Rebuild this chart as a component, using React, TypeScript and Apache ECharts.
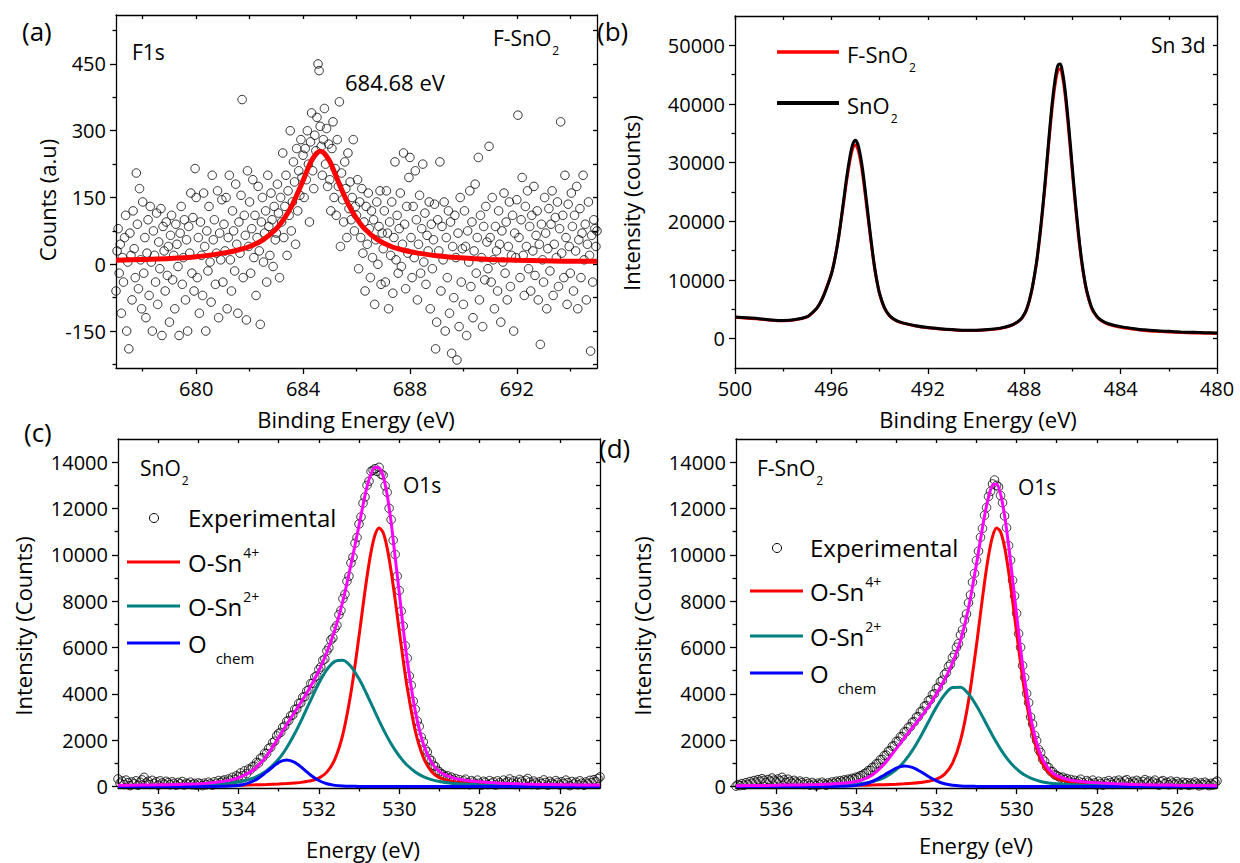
import React, { useEffect, useRef } from 'react';
import * as echarts from 'echarts';

const FONT = "'Open Sans', 'Noto Sans', sans-serif";

// ---------- Panel (a): F1s ----------
const F1S_START = 677;
const F1S_STEP = 0.04;
const F1S_COUNTS = [
  -60, 30, 80, -20, 45, -110, 15, -40, 60, 110, -150, 5, -190, 70, 20, -80, 120, 35, -30, 205, 90, -55, 170, 10, -100,
  140, -20, 60, -120, 25, 100, -70, 130, 5, -150, 75, 20, -40, 115, -90, 50, -10, 125, -160, 85, 30, -60, 95, -25, 40,
  -130, 65, 110, -35, 20, -100, 90, 45, -5, -160, 70, 130, -45, 15, 100, -80, 55, -150, 85, 25, 160, -20, 105, -60, 215,
  150, -30, 60, -110, 95, 20, -70, 160, 40, -150, 75, -15, 130, 5, -85, 200, 55, 100, -45, 25, 165, -120, 70, 10, 145,
  -40, 90, 30, 150, -100, 60, 200, 10, -60, 120, 75, -15, 180, 45, -110, 95, 25, 155, 370, -30, 110, 65, -125, 210, 40,
  140, -20, 80, 190, 15, 110, -70, 60, 175, 30, -135, 95, 150, 5, 70, 120, -40, 200, 85, 20, 160, 100, -5, 130, 55,
  70, 180, 115, -30, 150, 95, 250, 60, 130, 200, 20, 165, 110, 300, 75, 140, 230, 185, 45, 260, 120, 210, 155, 280, 195,
  245, 150, 260, 190, 300, 225, 95, 275, 340, 210, 170, 290, 255, 330, 450, 435, 310, 265, 200, 280, 350, 225, 305, 175, 270,
  190, 120, 260, 320, 150, 215, 110, 280, 175, 365, 40, 205, 145, 95, 230, 170, 60, 250, 125, 185, 100, 150, 280, 75, 130,
  110, 190, -10, 140, 60, 170, 25, 95, -60, 130, 45, 160, 80, -30, 120, 15, 100, -90, 55, 140, 0, 85, 165, -45, 70,
  35, 120, -40, 165, 70, -100, 95, 20, 140, -65, 60, 230, 10, 110, -20, 80, 160, -5, 45, 250, 90, -55, 130, 25, 195,
  240, 60, -30, 130, 15, 210, 100, -80, 45, 155, -20, 80, 225, 5, 115, -45, 65, 30, 140, -100, 90, -10, 55, 135, -190,
  -130, 100, 30, 230, -60, 85, 10, 140, -150, 60, -30, 120, -110, 95, -200, 40, -75, 110, 15, -215, 70, -140, 150, -40, 35,
  -90, 120, 40, -160, 75, 5, 165, -50, 95, -120, 30, 180, -20, 60, 240, -80, 110, 15, -140, 85, -35, 130, 50, -10, 265,
  60, -40, 150, 10, -100, 85, 30, -60, 120, 45, -130, 75, 5, 160, -20, 95, -80, 40, 140, -50, 20, 110, -150, 70, 15,
  145, 335, 60, -30, 100, 195, 20, -70, 130, 40, 165, -10, 85, -60, 110, 30, 175, -25, 65, 120, -80, 45, -180, 90, 10,
  -40, 150, 70, -100, 35, 125, -15, 90, 165, -70, 45, 105, 15, 140, -50, 80, 320, 25, 110, -30, 200, 60, -90, 135, 40,
  -20, 160, 85, -60, 110, 30, 175, -100, 55, 125, -30, 70, 200, 10, 90, -80, 45, 140, 20, -195, 65, -40, 100, 80, 40,
  75,
];
const F1S_FIT_E = [677, 678, 679, 680, 681, 681.5, 682, 682.5, 683, 683.3, 683.6, 683.9, 684.1, 684.3, 684.5, 684.65, 684.8, 685.0, 685.2, 685.4, 685.7, 686.0, 686.3, 686.8, 687.3, 687.8, 688.3, 689, 690, 691, 692, 693, 694, 695];
const F1S_FIT = [9, 11, 13, 17, 25, 31, 40, 55, 80, 103, 134, 174, 203, 231, 249, 254, 249, 231, 203, 174, 134, 103, 80, 55, 40, 31, 25, 19, 14, 11, 9, 8, 7, 7];

// ---------- Panel (b): Sn 3d ----------
const SN_E = [500, 499.5, 499, 498.5, 498, 497.5, 497, 496.8, 496.6, 496.4, 496.2, 496.0, 495.9, 495.8, 495.7, 495.6, 495.5, 495.4, 495.3, 495.2, 495.1, 495.0, 494.9, 494.8, 494.7, 494.6, 494.5, 494.4, 494.3, 494.2, 494.1, 494.0, 493.8, 493.6, 493.4, 493.2, 493.0, 492.5, 492, 491.5, 491, 490.5, 490, 489.5, 489, 488.6, 488.3, 488.1, 487.9, 487.7, 487.5, 487.4, 487.3, 487.2, 487.1, 487.0, 486.9, 486.8, 486.7, 486.6, 486.5, 486.4, 486.3, 486.2, 486.1, 486.0, 485.9, 485.8, 485.7, 485.6, 485.5, 485.4, 485.2, 485.0, 484.8, 484.5, 484, 483.5, 483, 482.5, 482, 481.5, 481, 480.5, 480];
const SN_PURE = [3700, 3550, 3400, 3200, 3100, 3250, 3750, 4400, 5200, 6600, 8600, 11000, 12700, 14800, 17300, 20200, 23300, 26500, 29300, 31700, 33300, 33800, 33100, 31300, 28700, 25400, 21900, 18400, 15000, 12000, 9600, 7700, 5300, 4000, 3300, 2900, 2650, 2200, 1900, 1700, 1550, 1450, 1450, 1550, 1800, 2200, 2800, 3500, 5000, 8000, 12700, 15900, 19600, 23700, 28200, 33000, 37600, 41600, 44700, 46600, 46800, 45200, 42300, 38300, 33800, 29000, 24400, 20100, 16200, 12900, 10200, 8100, 5300, 3900, 3150, 2550, 2050, 1750, 1500, 1350, 1250, 1150, 1080, 1020, 980];
const SN_F = [3650, 3500, 3350, 3150, 3050, 3200, 3700, 4350, 5200, 6650, 8700, 11100, 12800, 14900, 17300, 20100, 23000, 26000, 28700, 31000, 32600, 33000, 32300, 30500, 27900, 24700, 21300, 17900, 14700, 11800, 9500, 7600, 5200, 3950, 3250, 2850, 2600, 2150, 1850, 1650, 1500, 1400, 1400, 1500, 1750, 2150, 2750, 3450, 4950, 7950, 12600, 15700, 19300, 23300, 27700, 32400, 36900, 40800, 43800, 45700, 46000, 44400, 41500, 37500, 33000, 28300, 23800, 19600, 15800, 12600, 10000, 7900, 5150, 3800, 3050, 2450, 1950, 1650, 1400, 1250, 1150, 1050, 980, 930, 880];

// ---------- Panels (c), (d): O1s ----------
const EXP_START = 537;
const EXP_STEP = 0.05;
const C_EXP = [
  330, 150, 240, 90, 280, 170, 40, 200, 120, 250, 60, 190, 290, 400, 160, 230, 90, 270, 140, 210,
  60, 250, 160, 100, 230, 170, 80, 210, 140, 60, 180, 120, 220, 70, 150, 100, 190, 80, 140, 60,
  160, 120, 40, 150, 80, 190, 120, 60, 210, 140, 260, 170, 240, 290, 200, 330, 270, 400, 310, 470,
  420, 590, 470, 680, 560, 760, 730, 870, 880, 1040, 1020, 1230, 1250, 1440, 1430, 1650, 1690, 1900, 1960, 2190,
  2300, 2340, 2560, 2610, 2820, 2850, 3060, 3090, 3330, 3350, 3590, 3610, 3860, 3880, 4130, 4170, 4450, 4460, 4730, 4780,
  5050, 5160, 5450, 5510, 5860, 5990, 6330, 6420, 6830, 6960, 7420, 7600, 8110, 8300, 8860, 9080, 9650, 9900, 10500, 10750,
  11330, 11640, 12230, 12500, 13000, 13180, 13600, 13650, 13720, 13600, 13780, 13480, 13440, 12980, 12700, 12010, 11520, 10630, 10020, 9080,
  8460, 7570, 6930, 6080, 5540, 4780, 4370, 3690, 3340, 2830, 2600, 2130, 1930, 1600, 1500, 1200, 1120, 920, 870, 700,
  640, 560, 510, 430, 470, 360, 410, 280, 350, 190, 300, 120, 250, 320, 170, 80, 260, 200, 110, 280,
  150, 60, 230, 180, 90, 260, 140, 200, 70, 250, 170, 100, 280, 160, 220, 330, 150, 250, 90, 190,
  310, 230, 120, 270, 350, 200, 90, 240, 160, 70, 210, 130, 290, 180, 60, 230, 150, 100, 260, 180,
  70, 210, 130, 280, 170, 40, 220, 110, 190, 80, 250, 150, 60, 200, 120, 270, 170, 300, 210, 350,
  420,
];
const D_EXP = [
  20, 90, 40, 130, 60, 170, 100, 220, 150, 260, 190, 300, 230, 340, 270, 180, 310, 240, 370, 280,
  200, 330, 250, 400, 290, 180, 320, 230, 150, 270, 200, 120, 240, 170, 90, 210, 140, 60, 180, 110,
  40, 150, 90, 190, 120, 60, 160, 100, 200, 140, 230, 170, 260, 200, 290, 240, 320, 280, 360, 330,
  410, 400, 470, 480, 560, 590, 690, 700, 830, 840, 980, 1000, 1160, 1170, 1340, 1360, 1530, 1550, 1740, 1760,
  1950, 1960, 2150, 2160, 2360, 2370, 2560, 2580, 2780, 2800, 3000, 3020, 3230, 3260, 3470, 3500, 3710, 3750, 3970, 4010,
  4240, 4290, 4530, 4590, 4840, 4920, 5180, 5280, 5570, 5690, 6010, 6170, 6540, 6760, 7180, 7450, 7930, 8270, 8820, 9200,
  9760, 10160, 10760, 11140, 11710, 12040, 12520, 12740, 13060, 13230, 13000, 12930, 12560, 12250, 11680, 11170, 10400, 9770, 8900, 8230,
  7480, 6600, 6010, 5220, 4710, 4020, 3620, 3000, 2700, 2210, 1980, 1600, 1470, 1180, 1090, 860, 830, 660, 640, 510,
  480, 430, 370, 410, 300, 350, 240, 310, 180, 270, 140, 230, 320, 170, 90, 260, 200, 120, 280, 160,
  70, 230, 140, 60, 210, 130, 260, 170, 90, 240, 150, 280, 190, 110, 250, 300, 180, 100, 230, 150,
  270, 190, 80, 220, 300, 160, 240, 110, 200, 280, 140, 60, 210, 260, 130, 190, 80, 240, 160, 100,
  220, 140, 60, 190, 110, 170, 50, 150, 90, 200, 120, 30, 160, 80, 190, 110, 40, 140, 70, 180,
  240,
];
const FIT_E = [537, 536.5, 536, 535.5, 535, 534.6, 534.2, 533.9, 533.6, 533.3, 533.0, 532.8, 532.6, 532.4, 532.2, 532.0, 531.8, 531.6, 531.4, 531.2, 531.0, 530.9, 530.8, 530.7, 530.6, 530.5, 530.4, 530.3, 530.2, 530.1, 530.0, 529.9, 529.8, 529.6, 529.4, 529.2, 529.0, 528.7, 528.4, 528, 527.5, 527, 526.5, 526, 525.5, 525];
const C_SN4 = [18, 21, 25, 30, 36, 44, 53, 63, 75, 91, 113, 132, 157, 194, 252, 368, 626, 1183, 2266, 4056, 6485, 7806, 9065, 10130, 10868, 11160, 10964, 10309, 9297, 8067, 6750, 5457, 4276, 2412, 1266, 664, 385, 224, 160, 115, 81, 60, 46, 37, 30, 25];
const C_SN2 = [35, 42, 51, 64, 82, 106, 155, 232, 387, 682, 1192, 1680, 2289, 2992, 3742, 4460, 5049, 5406, 5455, 5185, 4655, 4324, 3964, 3592, 3215, 2846, 2491, 2158, 1851, 1574, 1326, 1109, 922, 632, 432, 301, 218, 148, 112, 84, 65, 52, 43, 35, 30, 26];
const C_CHEM = [2, 2, 3, 4, 7, 10, 25, 81, 263, 635, 1045, 1153, 1045, 784, 493, 263, 122, 53, 25, 14, 10, 9, 8, 7, 7, 6, 6, 5, 5, 5, 4, 4, 4, 3, 3, 3, 3, 2, 2, 2, 2, 2, 2, 1, 1, 1];
const C_ENV = [60, 65, 75, 95, 118, 175, 280, 450, 760, 1330, 2120, 2680, 3220, 3760, 4340, 5000, 5800, 6770, 8020, 9580, 11270, 12150, 12950, 13500, 13780, 13750, 13400, 12600, 11400, 9900, 8400, 6850, 5450, 3270, 1850, 1060, 650, 400, 285, 205, 150, 118, 95, 82, 72, 65];
const D_SN4 = [16, 19, 23, 27, 34, 40, 50, 58, 70, 85, 105, 123, 146, 179, 228, 320, 530, 1005, 1979, 3682, 6113, 7477, 8807, 9961, 10788, 11155, 10994, 10339, 9297, 8020, 6655, 5324, 4116, 2258, 1151, 598, 350, 209, 151, 108, 76, 56, 43, 34, 28, 23];
const D_SN2 = [23, 27, 33, 42, 54, 68, 94, 132, 214, 389, 731, 1088, 1564, 2145, 2791, 3430, 3960, 4273, 4291, 4003, 3489, 3181, 2857, 2529, 2208, 1902, 1617, 1360, 1130, 931, 761, 618, 501, 330, 222, 158, 119, 87, 68, 54, 42, 34, 28, 23, 19, 16];
const D_CHEM = [1, 2, 2, 3, 5, 9, 23, 74, 221, 501, 803, 894, 830, 653, 437, 251, 126, 58, 27, 14, 10, 9, 8, 7, 7, 6, 6, 5, 5, 5, 4, 4, 4, 3, 3, 3, 3, 2, 2, 2, 2, 2, 2, 2, 1, 1];
const D_ENV = [40, 48, 58, 72, 93, 117, 167, 264, 505, 975, 1639, 2105, 2540, 2977, 3456, 4001, 4616, 5336, 6297, 7699, 9612, 10667, 11672, 12497, 13003, 13063, 12617, 11704, 10432, 8956, 7420, 5946, 4621, 2591, 1376, 759, 472, 298, 221, 164, 120, 92, 73, 59, 48, 40];

// ---------- Tick labels ----------
const A_X_MAJOR = [680, 684, 688, 692];
const A_X_MINOR = [678, 682, 686, 690, 694];
const A_Y_MAJOR = [-150, 0, 150, 300, 450];
const A_Y_MINOR = [-225, -75, 75, 225, 375, 525];
const B_X_MAJOR = [480, 484, 488, 492, 496, 500];
const B_X_MINOR = [482, 486, 490, 494, 498];
const B_Y_MAJOR = [0, 10000, 20000, 30000, 40000, 50000];
const B_Y_MINOR = [5000, 15000, 25000, 35000, 45000];
const O_X_MAJOR = [526, 528, 530, 532, 534, 536];
const O_X_MINOR = [527, 529, 531, 533, 535];
const O_Y_MAJOR = [0, 2000, 4000, 6000, 8000, 10000, 12000, 14000];
const O_Y_MINOR = [1000, 3000, 5000, 7000, 9000, 11000, 13000];

const zip = (xs: number[], ys: number[]) => xs.map((x, i) => [x, ys[i]]);
const gridPts = (start: number, step: number, sign: number, ys: number[]) =>
  ys.map((y, i) => [Math.round((start + sign * i * step) * 100) / 100, y]);

function axisSet(gi: number, xs: any, ys: any) {
  const ln = { color: '#000', width: 1.3 };
  const fmt = (v: number) => String(v);
  const lab = { color: '#000', fontSize: 20, fontFamily: FONT, formatter: fmt };
  const xBase = { gridIndex: gi, type: 'value', min: xs.min, max: xs.max, inverse: !!xs.inverse, splitLine: { show: false } };
  const yBase = { gridIndex: gi, type: 'value', min: ys.min, max: ys.max, splitLine: { show: false } };
  const xAxis = [
    { ...xBase, position: 'bottom', axisLine: { show: true, onZero: false, lineStyle: ln },
      axisTick: { show: true, inside: false, length: 6, lineStyle: ln, customValues: xs.major },
      axisLabel: { show: true, customValues: xs.major, margin: 10, ...lab } },
    { ...xBase, position: 'bottom', axisLine: { show: false, onZero: false },
      axisTick: { show: true, inside: false, length: 3.5, lineStyle: ln, customValues: xs.minor },
      axisLabel: { show: false } },
    { ...xBase, position: 'top', axisLine: { show: true, onZero: false, lineStyle: ln },
      axisTick: { show: true, inside: true, length: 4, lineStyle: ln, customValues: [...xs.major, ...xs.minor] },
      axisLabel: { show: false } },
  ];
  const yAxis = [
    { ...yBase, position: 'left', axisLine: { show: true, onZero: false, lineStyle: ln },
      axisTick: { show: true, inside: false, length: 6, lineStyle: ln, customValues: ys.major },
      axisLabel: { show: true, customValues: ys.major, margin: 10, ...lab } },
    { ...yBase, position: 'left', axisLine: { show: false, onZero: false },
      axisTick: { show: true, inside: false, length: 3.5, lineStyle: ln, customValues: ys.minor },
      axisLabel: { show: false } },
    { ...yBase, position: 'right', axisLine: { show: true, onZero: false, lineStyle: ln },
      axisTick: { show: true, inside: true, length: 4, lineStyle: ln, customValues: [...ys.major, ...ys.minor] },
      axisLabel: { show: false } },
  ];
  return { xAxis, yAxis };
}

const txt = (x: number, y: number, text: string, size: number) => ({
  type: 'text', x, y, silent: true,
  style: { text, fill: '#000', fontSize: size, fontFamily: FONT, align: 'left', verticalAlign: 'middle', textAlign: 'left', textVerticalAlign: 'middle' },
});
const rich = (x: number, y: number, text: string, size: number) => ({
  type: 'text', x, y, silent: true,
  style: {
    text, fill: '#000', fontSize: size, fontFamily: FONT, align: 'left', verticalAlign: 'middle',
    rich: {
      m: { fontSize: size, fontFamily: FONT, fill: '#000' },
      sub: { fontSize: 12, fontFamily: FONT, fill: '#000', padding: [size + 4, 0, 0, 1] },
      sup: { fontSize: 14, fontFamily: FONT, fill: '#000', padding: [0, 0, 20, 1] },
      chem: { fontSize: 15, fontFamily: FONT, fill: '#000', padding: [30, 0, 0, 9] },
    },
  },
});
const vtxt = (x: number, y: number, text: string, size: number) => ({
  type: 'text', x, y, rotation: Math.PI / 2, silent: true,
  style: { text, fill: '#000', fontSize: size, fontFamily: FONT, align: 'center', verticalAlign: 'middle', textAlign: 'center', textVerticalAlign: 'middle' },
});
const ctxt = (x: number, y: number, text: string, size: number) => ({
  type: 'text', x, y, silent: true,
  style: { text, fill: '#000', fontSize: size, fontFamily: FONT, align: 'center', verticalAlign: 'middle', textAlign: 'center', textVerticalAlign: 'middle' },
});
const seg = (x1: number, x2: number, y: number, color: string, w = 3) => ({
  type: 'line', silent: true, shape: { x1, y1: y, x2, y2: y }, style: { stroke: color, lineWidth: w },
});
const ring = (cx: number, cy: number) => ({
  type: 'circle', silent: true, shape: { cx, cy, r: 4.5 }, style: { fill: 'none', stroke: '#000', lineWidth: 1 },
});

const RED = '#ff0000';
const TEAL = '#008080';
const BLUE = '#0000ff';
const MAGENTA = '#ff00ff';

export default function App() {
  const ref = useRef<HTMLDivElement>(null);
  useEffect(() => {
    if (!ref.current) return;
    const chart = echarts.init(ref.current, undefined, { renderer: 'svg' });
    const a = axisSet(0, { min: 677, max: 695, major: A_X_MAJOR, minor: A_X_MINOR }, { min: -233, max: 560, major: A_Y_MAJOR, minor: A_Y_MINOR });
    const b = axisSet(1, { min: 480, max: 500, inverse: true, major: B_X_MAJOR, minor: B_X_MINOR }, { min: -5000, max: 55000, major: B_Y_MAJOR, minor: B_Y_MINOR });
    const c = axisSet(2, { min: 525, max: 537, inverse: true, major: O_X_MAJOR, minor: O_X_MINOR }, { min: -60, max: 15000, major: O_Y_MAJOR, minor: O_Y_MINOR });
    const d = axisSet(3, { min: 525, max: 537, inverse: true, major: O_X_MAJOR, minor: O_X_MINOR }, { min: -60, max: 15000, major: O_Y_MAJOR, minor: O_Y_MINOR });

    const scatterStyle = { color: 'rgba(255,255,255,0)', borderColor: '#000', borderWidth: 1 };
    const lineS = (xi: number, data: number[][], color: string, width: number) => ({
      type: 'line', xAxisIndex: xi, yAxisIndex: xi, data, showSymbol: false, symbol: 'none',
      smooth: 0.3, silent: true,
      lineStyle: { color, width }, itemStyle: { color },
    });
    const scat = (xi: number, data: number[][], size: number) => ({
      type: 'scatter', xAxisIndex: xi, yAxisIndex: xi, data, symbol: 'circle', symbolSize: size, silent: true,
      itemStyle: scatterStyle,
    });

    const option: any = {
      animation: false,
      backgroundColor: '#ffffff',
      grid: [
        { left: 116, top: 15, width: 481, height: 353, outerBoundsMode: 'none' },
        { left: 735, top: 16, width: 482, height: 352, outerBoundsMode: 'none' },
        { left: 118, top: 439, width: 482, height: 349, outerBoundsMode: 'none' },
        { left: 736, top: 439, width: 481, height: 349, outerBoundsMode: 'none' },
      ],
      xAxis: [...a.xAxis, ...b.xAxis, ...c.xAxis, ...d.xAxis],
      yAxis: [...a.yAxis, ...b.yAxis, ...c.yAxis, ...d.yAxis],
      series: [
        scat(0, gridPts(F1S_START, F1S_STEP, 1, F1S_COUNTS), 8.5),
        lineS(0, zip(F1S_FIT_E, F1S_FIT), RED, 5),
        lineS(3, zip(SN_E, SN_F), RED, 3),
        lineS(3, zip(SN_E, SN_PURE), '#000000', 3),
        scat(6, gridPts(EXP_START, EXP_STEP, -1, C_EXP), 8.5),
        lineS(6, zip(FIT_E, C_SN4), RED, 3),
        lineS(6, zip(FIT_E, C_SN2), TEAL, 3),
        lineS(6, zip(FIT_E, C_CHEM), BLUE, 3),
        lineS(6, zip(FIT_E, C_ENV), MAGENTA, 3),
        scat(9, gridPts(EXP_START, EXP_STEP, -1, D_EXP), 8.5),
        lineS(9, zip(FIT_E, D_SN4), RED, 3),
        lineS(9, zip(FIT_E, D_SN2), TEAL, 3),
        lineS(9, zip(FIT_E, D_CHEM), BLUE, 3),
        lineS(9, zip(FIT_E, D_ENV), MAGENTA, 3),
      ],
      graphic: [
        txt(22, 31, '(a)', 26),
        txt(597, 31, '(b)', 26),
        txt(24, 432, '(c)', 26),
        txt(599, 448, '(d)', 26),
        vtxt(47, 200, 'Counts (a.u)', 22),
        ctxt(356, 419, 'Binding Energy (eV)', 22),
        vtxt(631, 203, 'Intensity (counts)', 22),
        ctxt(978, 419, 'Binding Energy (eV)', 22),
        vtxt(23, 626, 'Intensity (Counts)', 22),
        ctxt(363, 849, 'Energy (eV)', 22),
        vtxt(642, 626, 'Intensity (Counts)', 22),
        ctxt(976, 845, 'Energy (eV)', 22),
        txt(132, 52, 'F1s', 21),
        rich(493, 38, '{m|F-SnO}{sub|2}', 21),
        txt(345, 82, '684.68 eV', 22),
        txt(1151, 45, 'Sn 3d', 21),
        seg(777, 839, 52, RED, 3.5),
        rich(847, 54, '{m|F-SnO}{sub|2}', 22),
        seg(777, 839, 103, '#000000', 4),
        rich(847, 105, '{m|SnO}{sub|2}', 22),
        rich(140, 468, '{m|SnO}{sub|2}', 21),
        txt(403, 485, 'O1s', 21),
        ring(154, 518),
        txt(188, 517, 'Experimental', 24),
        seg(127, 180, 562, RED),
        rich(188, 562, '{m|O-Sn}{sup|4+}', 24),
        seg(127, 180, 606, TEAL),
        rich(188, 606, '{m|O-Sn}{sup|2+}', 24),
        seg(127, 180, 643, BLUE),
        rich(188, 643, '{m|O}{chem|chem}', 24),
        rich(757, 468, '{m|F-SnO}{sub|2}', 21),
        txt(1018, 487, 'O1s', 21),
        ring(777, 548),
        txt(810, 547, 'Experimental', 24),
        seg(750, 803, 591, RED),
        rich(810, 591, '{m|O-Sn}{sup|4+}', 24),
        seg(750, 803, 636, TEAL),
        rich(810, 636, '{m|O-Sn}{sup|2+}', 24),
        seg(750, 803, 673, BLUE),
        rich(810, 673, '{m|O}{chem|chem}', 24),
      ],
    };
    chart.setOption(option);
    return () => chart.dispose();
  }, []);
  return <div ref={ref} style={{ position: 'absolute', left: 0, top: 0, width: 1240, height: 863, background: '#fff' }} />;
}
